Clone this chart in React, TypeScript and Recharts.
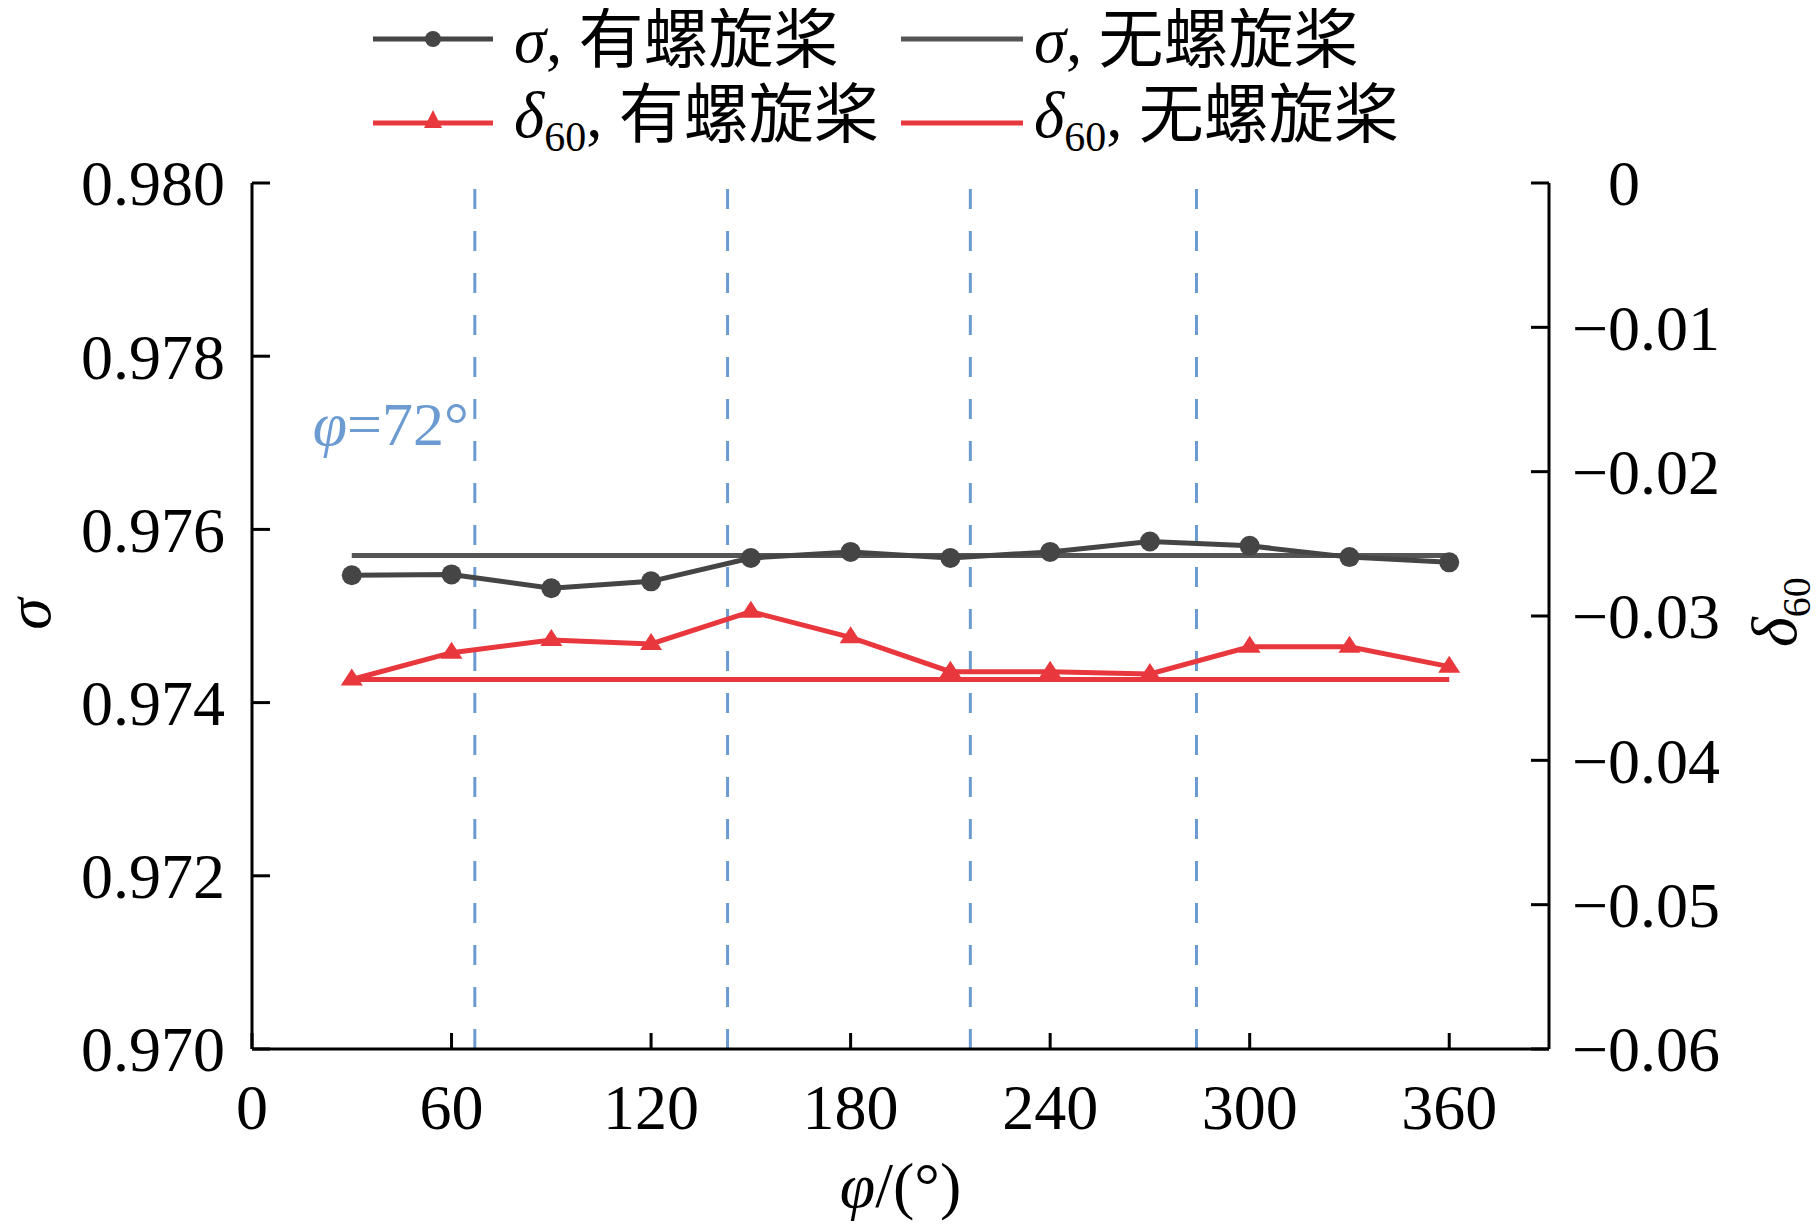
import React from "react"
import { LineChart, Line, XAxis, YAxis, ReferenceLine } from "recharts"

const phi = [30, 60, 90, 120, 150, 180, 210, 240, 270, 300, 330, 360]
const sigmaProp = [0.97547, 0.97548, 0.97532, 0.9754, 0.97567, 0.97574, 0.97567, 0.97574, 0.97586, 0.97581, 0.97568, 0.97562]
const sigmaNoProp = [0.9757, 0.9757, 0.9757, 0.9757, 0.9757, 0.9757, 0.9757, 0.9757, 0.9757, 0.9757, 0.9757, 0.9757]
const deltaProp = [-0.0344, -0.03254, -0.03166, -0.03194, -0.0297, -0.03148, -0.03386, -0.03386, -0.03402, -0.03213, -0.03213, -0.03351]
const deltaNoProp = [-0.0344, -0.0344, -0.0344, -0.0344, -0.0344, -0.0344, -0.0344, -0.0344, -0.0344, -0.0344, -0.0344, -0.0344]

// blade positions marked by the dashed lines
const bladeLines = [67, 143, 216, 284]

const xTicks = [0, 60, 120, 180, 240, 300, 360]
const sigmaTicks = [0.97, 0.972, 0.974, 0.976, 0.978, 0.98]
const deltaTicks = [-0.06, -0.05, -0.04, -0.03, -0.02, -0.01, 0]

const data = phi.map((p, i) => ({
  phi: p,
  sigmaProp: sigmaProp[i],
  sigmaNoProp: sigmaNoProp[i],
  deltaProp: deltaProp[i],
  deltaNoProp: deltaNoProp[i],
}))

const FONT = "'Liberation Serif', 'Noto Sans CJK SC', serif"
const GRAY = "#454545"
const GRAY2 = "#555555"
const RED = "#e8383d"
const BLUE = "#6b9bd1"

const LeftTick = ({ x, y, payload }: any) => (
  <g>
    <line x1={x} x2={x + 18} y1={y} y2={y} stroke="#000" strokeWidth={3} />
    <text x={x - 27} y={y} dy="0.35em" textAnchor="end" fontSize={64} fontFamily={FONT} fill="#000">
      {payload.value.toFixed(3)}
    </text>
  </g>
)

const RightTick = ({ x, y, payload }: any) => {
  const v = payload.value
  const label = v === 0 ? "0" : "\u2212" + Math.abs(v).toFixed(2)
  return (
    <g>
      <line x1={x} x2={x - 18} y1={y} y2={y} stroke="#000" strokeWidth={3} />
      <text x={v === 0 ? x + 59 : x + 23} y={y} dy="0.35em" textAnchor="start" fontSize={64} fontFamily={FONT} fill="#000">
        {label}
      </text>
    </g>
  )
}

const BottomTick = ({ x, y, payload }: any) => (
  <g>
    <line x1={x} x2={x} y1={y} y2={y - 16} stroke="#000" strokeWidth={3} />
    <text x={x} y={y + 58} dy="0.35em" textAnchor="middle" fontSize={64} fontFamily={FONT} fill="#000">
      {payload.value}
    </text>
  </g>
)

const TriangleDot = ({ cx, cy }: any) => {
  if (cx == null || cy == null) return null
  return <polygon points={`${cx},${cy - 11} ${cx - 11},${cy + 6} ${cx + 11},${cy + 6}`} fill={RED} />
}

const SigmaLabel = ({ viewBox }: any) => {
  if (!viewBox) return null
  const cx = viewBox.x - 24
  const cy = viewBox.y + viewBox.height / 2 - 2
  return (
    <text x={cx} y={cy} transform={`rotate(-90, ${cx}, ${cy})`} textAnchor="middle" dy="0.35em" fontSize={64} fontFamily={FONT} fontStyle="italic">
      σ
    </text>
  )
}

const DeltaLabel = ({ viewBox }: any) => {
  if (!viewBox) return null
  const cx = viewBox.x + 228
  const cy = viewBox.y + viewBox.height / 2 - 4
  return (
    <text x={cx} y={cy} transform={`rotate(-90, ${cx}, ${cy})`} textAnchor="middle" dy="0.3em" fontSize={64} fontFamily={FONT}>
      <tspan fontStyle="italic">δ</tspan>
      <tspan fontSize={40} dy={14}>60</tspan>
    </text>
  )
}

const PhiLabel = ({ viewBox }: any) => {
  if (!viewBox) return null
  return (
    <text x={viewBox.x + viewBox.width / 2} y={viewBox.y + 136} dy="0.35em" textAnchor="middle" fontSize={64} fontFamily={FONT}>
      <tspan fontStyle="italic">φ</tspan>/(°)
    </text>
  )
}

const AngleNote = ({ viewBox }: any) => {
  if (!viewBox) return null
  return (
    <text x={viewBox.x - 6} y={viewBox.y + 262} textAnchor="end" fontSize={62} fontFamily={FONT} fill={BLUE}>
      <tspan fontStyle="italic">φ</tspan>=72°
    </text>
  )
}

function Legend() {
  const cols = [365, 893]
  const rows = [31, 115]
  return (
    <svg width={1803} height={170} style={{ position: "absolute", left: 0, top: 0 }} fontFamily={FONT}>
      {/* row 1: sigma */}
      <line x1={cols[0]} x2={cols[0] + 120} y1={rows[0]} y2={rows[0]} stroke={GRAY} strokeWidth={5} />
      <circle cx={cols[0] + 60} cy={rows[0]} r={8} fill={GRAY} />
      <text x={cols[0] + 141} y={rows[0]} dy="0.35em" fontSize={65}>
        <tspan fontStyle="italic">σ</tspan>, 有螺旋桨
      </text>
      <line x1={cols[1]} x2={cols[1] + 122} y1={rows[0]} y2={rows[0]} stroke={GRAY2} strokeWidth={5} />
      <text x={cols[1] + 133} y={rows[0]} dy="0.35em" fontSize={65}>
        <tspan fontStyle="italic">σ</tspan>, 无螺旋桨
      </text>
      {/* row 2: delta60 */}
      <line x1={cols[0]} x2={cols[0] + 120} y1={rows[1]} y2={rows[1]} stroke={RED} strokeWidth={5} />
      <polygon points={`${cols[0] + 60},${rows[1] - 13} ${cols[0] + 51},${rows[1] + 5} ${cols[0] + 69},${rows[1] + 5}`} fill={RED} />
      <text x={cols[0] + 141} y={rows[1] - 9} dy="0.35em" fontSize={65}>
        <tspan fontStyle="italic">δ</tspan>
        <tspan fontSize={42} dy={14}>60</tspan>
        <tspan dy={-14}>, 有螺旋桨</tspan>
      </text>
      <line x1={cols[1]} x2={cols[1] + 122} y1={rows[1]} y2={rows[1]} stroke={RED} strokeWidth={5} />
      <text x={cols[1] + 133} y={rows[1] - 9} dy="0.35em" fontSize={65}>
        <tspan fontStyle="italic">δ</tspan>
        <tspan fontSize={42} dy={14}>60</tspan>
        <tspan dy={-14}>, 无螺旋桨</tspan>
      </text>
    </svg>
  )
}

export default function App() {
  return (
    <div style={{ position: "relative", width: 1803, height: 1217, fontFamily: FONT, background: "#fff" }}>
      <LineChart
        width={1803}
        height={1217}
        data={data}
        margin={{ top: 175, right: 62, bottom: 76, left: 44 }}
        style={{ overflow: "visible" }}
      >
        <XAxis
          dataKey="phi"
          type="number"
          domain={[0, 390]}
          ticks={xTicks}
          height={100}
          tickSize={0}
          tickMargin={0}
          tickLine={false}
          tick={<BottomTick />}
          axisLine={{ stroke: "#000", strokeWidth: 3 }}
          label={{ content: PhiLabel }}
        />
        <XAxis
          xAxisId="top"
          orientation="top"
          dataKey="phi"
          type="number"
          domain={[0, 390]}
          height={0}
          tick={false}
          tickLine={false}
          axisLine={{ stroke: "#000", strokeWidth: 3 }}
        />
        <YAxis
          yAxisId="left"
          domain={[0.97, 0.98]}
          ticks={sigmaTicks}
          width={200}
          tickSize={0}
          tickMargin={0}
          tickLine={false}
          tick={<LeftTick />}
          axisLine={{ stroke: "#000", strokeWidth: 3 }}
          allowDataOverflow
          label={{ content: SigmaLabel }}
        />
        <YAxis
          yAxisId="right"
          orientation="right"
          domain={[-0.06, 0]}
          ticks={deltaTicks}
          width={200}
          tickSize={0}
          tickMargin={0}
          tickLine={false}
          tick={<RightTick />}
          axisLine={{ stroke: "#000", strokeWidth: 3 }}
          allowDataOverflow
          label={{ content: DeltaLabel }}
        />
        {bladeLines.map((b, i) => (
          <ReferenceLine
            key={b}
            x={b}
            yAxisId="left"
            stroke={BLUE}
            strokeWidth={3}
            strokeDasharray="20 22"
            label={i === 0 ? AngleNote : undefined}
          />
        ))}
        <Line yAxisId="right" dataKey="deltaNoProp" stroke={RED} strokeWidth={5} dot={false} isAnimationActive={false} />
        <Line yAxisId="right" dataKey="deltaProp" stroke={RED} strokeWidth={5} dot={<TriangleDot />} isAnimationActive={false} />
        <Line yAxisId="left" dataKey="sigmaNoProp" stroke={GRAY2} strokeWidth={5} dot={false} isAnimationActive={false} />
        <Line
          yAxisId="left"
          dataKey="sigmaProp"
          stroke={GRAY}
          strokeWidth={5}
          dot={{ r: 10, fill: GRAY, stroke: GRAY, strokeWidth: 0 }}
          isAnimationActive={false}
        />
      </LineChart>
      <Legend />
    </div>
  )
}
